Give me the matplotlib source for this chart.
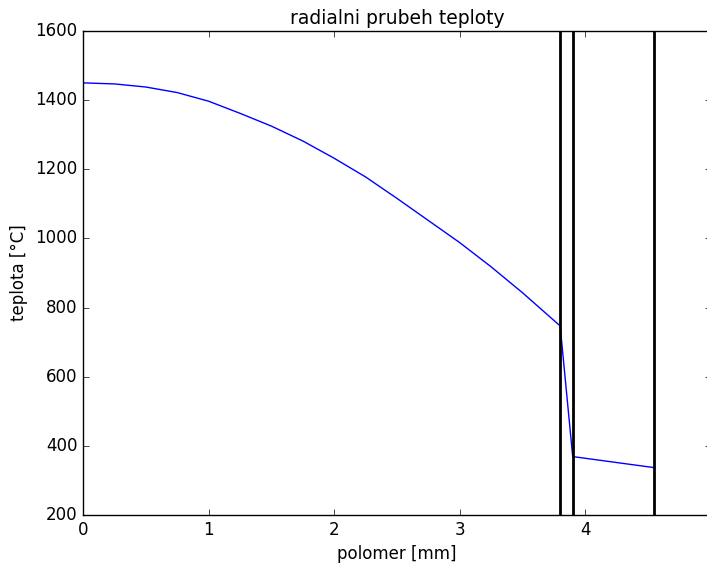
import matplotlib
matplotlib.use("Agg")
import matplotlib.pyplot as plt

# radial temperature profile
polomer = [0.0, 0.25, 0.5, 0.75, 1.0, 1.25, 1.5, 1.75, 2.0, 2.25, 2.5,
           2.75, 3.0, 3.25, 3.5, 3.8, 3.9, 4.55]
teplota = [1450, 1447, 1438, 1422, 1397, 1362, 1325, 1282, 1232, 1178, 1116,
           1052, 988, 918, 843, 747, 369, 337]

# boundaries (fuel / gap / cladding)
hranice = [3.8, 3.9, 4.55]

plt.style.use("classic")

fig = plt.figure(figsize=(7.07, 5.65), dpi=100)
ax = fig.add_axes([0.1174, 0.0885, 0.888, 0.8566])

ax.plot(polomer, teplota, color="b", lw=1)
for h in hranice:
    ax.axvline(h, color="k", lw=2)

ax.set_xlim(0, 5)
ax.set_ylim(200, 1600)
ax.set_xticks([0, 1, 2, 3, 4, 5])
ax.set_yticks(range(200, 1601, 200))
ax.tick_params(labelsize=12)

ax.set_xlabel("polomer [mm]", fontsize=12)
ax.set_ylabel("teplota [°C]", fontsize=12)
ax.set_title("radialni prubeh teploty", fontsize=13.5)

fig.savefig("out.png", dpi=100)
